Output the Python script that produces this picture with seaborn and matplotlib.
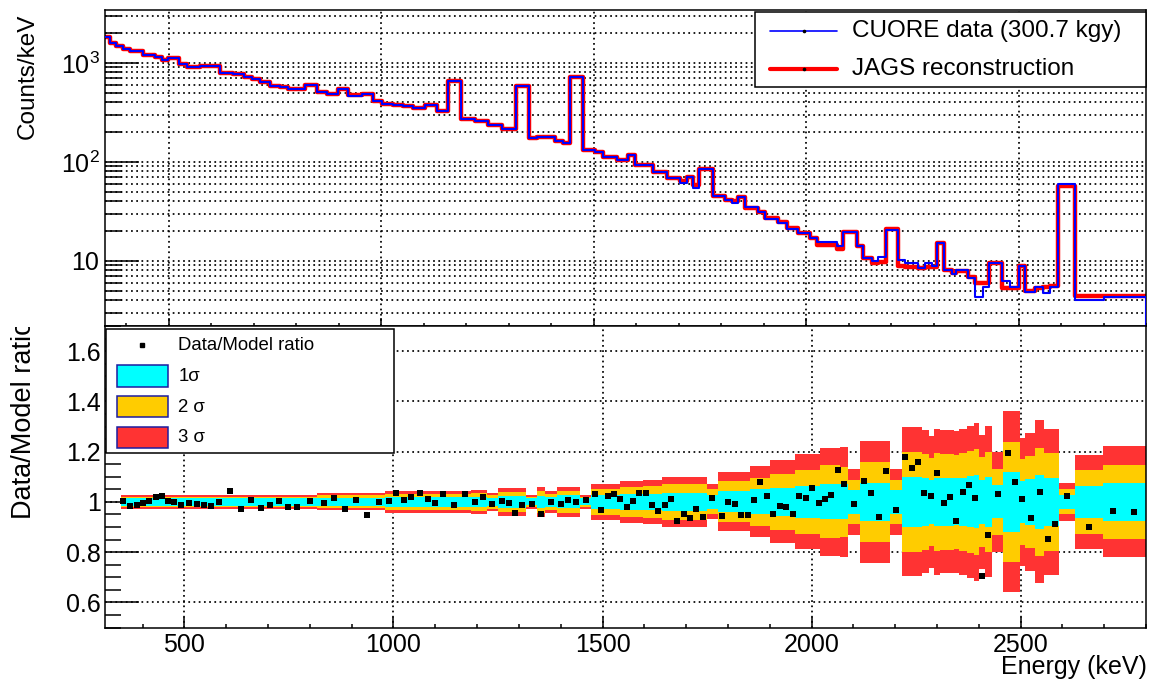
import numpy as np
import matplotlib
matplotlib.use("Agg")
import matplotlib.pyplot as plt
import seaborn as sns
from matplotlib.ticker import MultipleLocator, FuncFormatter, LogLocator, NullFormatter
from matplotlib.patches import Rectangle
from matplotlib.lines import Line2D
from matplotlib.transforms import Affine2D, Bbox, TransformedBbox

# ---------------- data ----------------
spec_edges = [350, 362, 377, 393, 409, 440, 468, 483, 499, 524, 542, 574, 621, 652, 676, 695,
              715, 738, 762, 781, 820, 848, 872, 899, 923, 954, 981, 1001, 1028, 1052, 1076,
              1103, 1131, 1158, 1187, 1221, 1252, 1284, 1317, 1349, 1366, 1409, 1427, 1444,
              1476, 1503, 1523, 1554, 1582, 1597, 1640, 1672, 1703, 1719, 1735, 1749, 1780,
              1809, 1825, 1840, 1856, 1887, 1903, 1935, 1954, 1981, 2009, 2025, 2072, 2088,
              2119, 2135, 2154, 2170, 2188, 2217, 2233, 2264, 2280, 2296, 2307, 2325, 2343,
              2354, 2382, 2398, 2416, 2431, 2460, 2480, 2500, 2515, 2539, 2557, 2574, 2594,
              2633, 2700, 2800]

data_counts = [1815, 1580, 1483, 1383, 1321, 1204, 1141, 1072, 1130, 970,
               918, 940, 799, 770, 728, 685, 648, 587, 569, 551,
               591, 507, 487, 547, 458, 484, 408, 386, 372, 363,
               350, 372, 323, 662, 270, 260, 234, 215, 587, 174,
               177, 161, 155, 728, 131, 125, 112, 105, 118, 92.5,
               79.3, 68.8, 61.3, 69.8, 54.6, 84, 45.1, 41.1, 38.7, 44.1,
               34.8, 31.0, 26.2, 23.9, 21.2, 19.2, 17.1, 15.6, 14.1, 19.6,
               14.1, 10.8, 10.0, 11.0, 20.7, 10.2, 9.6, 8.5, 9.6, 8.8,
               15.0, 8.1, 7.4, 8.0, 6.7, 4.3, 5.5, 9.6, 6.3, 5.5,
               8.9, 4.9, 5.5, 4.7, 5.4, 60, 4.0, 4.3]

model_counts = [1815, 1580, 1483, 1383, 1321, 1204, 1141, 1072, 1130, 970,
                918, 940, 799, 770, 728, 685, 648, 587, 569, 551,
                591, 507, 487, 547, 470, 484, 408, 386, 372, 363,
                350, 372, 323, 662, 270, 260, 234, 215, 587, 174,
                177, 161, 155, 728, 131, 125, 112, 105, 118, 92.5,
                79.3, 68.8, 64, 69.8, 58, 84, 45.1, 41.1, 40, 44.1,
                34.0, 31.5, 27, 24.5, 21.5, 19.2, 17.1, 14.6, 13.1, 19.6,
                14.1, 10.8, 9.6, 9.8, 21, 8.8, 8.7, 8.4, 8.6, 8.6,
                15.0, 8.0, 7.6, 7.9, 6.9, 6.0, 6.0, 9.6, 5.3, 5.3,
                8.9, 5.0, 5.3, 5.5, 5.6, 57.5, 4.4, 4.45]

ratio_energy = [354, 370, 386, 400, 415, 431, 446, 461, 475, 492,
                511, 529, 547, 564, 583, 609, 635, 659, 683, 705,
                726, 748, 769, 800, 833, 858, 884, 910, 936, 966,
                989, 1006, 1025, 1041, 1064, 1083, 1100, 1118, 1145, 1171,
                1195, 1214, 1235, 1259, 1277, 1291, 1307, 1331, 1353, 1376,
                1400, 1417, 1437, 1461, 1482, 1497, 1513, 1528, 1542, 1559,
                1573, 1588, 1604, 1619, 1633, 1650, 1664, 1678, 1695, 1710,
                1724, 1741, 1762, 1786, 1800, 1817, 1832, 1848, 1863, 1877,
                1894, 1908, 1925, 1939, 1956, 1970, 1987, 2001, 2018, 2033,
                2047, 2064, 2078, 2101, 2125, 2143, 2162, 2178, 2202, 2223,
                2241, 2255, 2269, 2286, 2300, 2317, 2332, 2346, 2363, 2377,
                2391, 2408, 2422, 2446, 2470, 2487, 2504, 2525, 2547, 2566,
                2583, 2611, 2664, 2721, 2772]

ratio_value = [1.005, 0.985, 0.988, 0.996, 1.005, 1.020, 1.025, 1.005, 1.001, 0.988,
               0.997, 0.992, 0.988, 0.985, 1.001, 1.045, 0.973, 1.009, 0.977, 0.988,
               1.005, 0.981, 0.981, 1.005, 0.997, 1.017, 0.973, 1.009, 0.949, 1.001,
               1.005, 1.037, 1.009, 1.021, 1.037, 1.013, 0.997, 1.032, 0.989, 1.033,
               1.001, 1.021, 0.993, 1.005, 0.996, 0.957, 0.988, 0.993, 0.953, 1.001,
               0.993, 1.009, 1.001, 1.009, 1.033, 0.969, 1.025, 1.033, 1.013, 0.981,
               1.005, 1.037, 1.037, 0.988, 0.965, 0.988, 1.013, 0.925, 0.953, 0.937,
               0.973, 0.941, 1.016, 0.945, 1.001, 0.993, 0.949, 0.949, 1.009, 1.081,
               1.025, 0.953, 0.985, 0.981, 0.953, 1.025, 1.017, 1.057, 0.997, 1.013,
               1.029, 1.125, 1.073, 0.993, 1.085, 1.037, 0.941, 1.121, 0.969, 1.177,
               1.133, 1.157, 1.037, 1.025, 1.113, 0.997, 1.021, 0.925, 1.041, 1.069,
               1.017, 0.705, 0.869, 1.033, 1.193, 1.081, 1.013, 0.937, 1.041, 0.853,
               0.913, 1.025, 0.901, 0.965, 0.961]

band_edges = [348, 817, 980, 1186, 1224, 1250, 1317, 1343, 1363, 1391, 1446, 1473, 1542,
              1597, 1643, 1750, 1777, 1853, 1901, 1961, 2021, 2068, 2088, 2115, 2188, 2216,
              2264, 2280, 2292, 2308, 2340, 2352, 2372, 2388, 2400, 2416, 2432, 2459, 2499,
              2511, 2535, 2557, 2593, 2631, 2697, 2800]

band_1s = [0.015, 0.017, 0.019, 0.021, 0.016, 0.023, 0.014, 0.025, 0.020, 0.026,
           0.014, 0.028, 0.031, 0.033, 0.037, 0.027, 0.042, 0.050, 0.057, 0.064,
           0.070, 0.070, 0.047, 0.075, 0.047, 0.099, 0.095, 0.088, 0.097, 0.095,
           0.094, 0.097, 0.101, 0.105, 0.089, 0.100, 0.066, 0.120, 0.085, 0.092,
           0.108, 0.097, 0.028, 0.064, 0.075]
band_2s = [0.021, 0.026, 0.031, 0.035, 0.027, 0.039, 0.021, 0.044, 0.033, 0.045,
           0.021, 0.053, 0.060, 0.064, 0.072, 0.050, 0.082, 0.097, 0.112, 0.127,
           0.145, 0.140, 0.088, 0.160, 0.088, 0.198, 0.190, 0.176, 0.194, 0.190,
           0.188, 0.194, 0.202, 0.210, 0.178, 0.200, 0.132, 0.240, 0.170, 0.184,
           0.216, 0.194, 0.050, 0.127, 0.148]
band_3s = [0.027, 0.034, 0.044, 0.048, 0.035, 0.055, 0.027, 0.059, 0.043, 0.060,
           0.027, 0.072, 0.083, 0.088, 0.099, 0.070, 0.117, 0.141, 0.165, 0.189,
           0.216, 0.220, 0.131, 0.243, 0.131, 0.297, 0.285, 0.264, 0.291, 0.285,
           0.282, 0.291, 0.303, 0.315, 0.267, 0.300, 0.198, 0.360, 0.255, 0.276,
           0.324, 0.291, 0.077, 0.187, 0.221]

legend_top = ["CUORE data (300.7 kgy)", "JAGS reconstruction"]
legend_bottom = ["Data/Model ratio", "1\u03c3", "2 \u03c3", "3 \u03c3"]

# ---------------- style ----------------
sns.set_theme(style="ticks", rc={
    "axes.edgecolor": "black", "text.color": "black", "axes.labelcolor": "black",
    "xtick.color": "black", "ytick.color": "black", "axes.facecolor": "white",
    "figure.facecolor": "white"})
plt.rcParams["font.family"] = ["Liberation Sans", "DejaVu Sans"]
plt.rcParams["mathtext.fontset"] = "custom"
plt.rcParams["mathtext.rm"] = "Liberation Sans"
plt.rcParams["mathtext.it"] = "Liberation Sans:italic"
plt.rcParams["mathtext.bf"] = "Liberation Sans:bold"

W, H = 1154, 682
fig = plt.figure(figsize=(W / 100, H / 100), dpi=100)


def frac(l, t, r, b):
    return [l / W, 1 - b / H, (r - l) / W, (b - t) / H]


ax1 = fig.add_axes(frac(105, 10, 1146, 326))
ax2 = fig.add_axes(frac(105, 326, 1146, 627.5))
px = Affine2D().scale(1 / W, -1 / H).translate(0, 1) + fig.transFigure

BLUE, RED = "#0000ff", "#ff0000"
DOT = (0, (1, 2))
GRID_LW = 1.25

# ---------------- upper panel ----------------
centers = [0.5 * (a + b) for a, b in zip(spec_edges[:-1], spec_edges[1:])]
sns.histplot(x=centers, weights=model_counts, bins=list(spec_edges), element="step",
             fill=False, color=RED, linewidth=3.2, ax=ax1, zorder=2)
sns.histplot(x=centers, weights=data_counts, bins=list(spec_edges), element="step",
             fill=False, color=BLUE, linewidth=1.5, ax=ax1, zorder=3)
ax1.set_yscale("log")
ax1.set_xlim(350, 2800)
ax1.set_ylim(2.2, 3420)
ax1.vlines(spec_edges[-1], ax1.get_ylim()[0], data_counts[-1], color=BLUE, lw=1.5, zorder=3)

ax1.yaxis.set_major_locator(LogLocator(base=10, numticks=10))
ax1.yaxis.set_minor_locator(LogLocator(base=10, subs=np.arange(2, 10), numticks=30))
ax1.yaxis.set_minor_formatter(NullFormatter())
ax1.yaxis.set_major_formatter(FuncFormatter(
    lambda v, p: "10" if abs(v - 10) < 1e-6 else r"$\mathdefault{10^{%d}}$" % round(np.log10(v))))

# ---------------- lower panel ----------------
be = np.array(band_edges, float)
for widths, col in ((band_3s, "#ff3333"), (band_2s, "#ffcc00"), (band_1s, "#00ffff")):
    w = np.append(widths, widths[-1])
    ax2.fill_between(be, 1 - w, 1 + w, step="post", color=col, lw=0, zorder=1)
sns.scatterplot(x=ratio_energy, y=ratio_value, marker="s", s=13, color="black",
                linewidth=0, ax=ax2, zorder=4)
ax2.set_xlim(310, 2800)
ax2.set_ylim(0.5, 1.7)
ax2.yaxis.set_major_locator(MultipleLocator(0.2))
ax2.yaxis.set_minor_locator(MultipleLocator(0.05))
ax2.yaxis.set_major_formatter(FuncFormatter(lambda v, p: f"{v:g}"))

# ---------------- common axis styling ----------------
for ax in (ax1, ax2):
    ax.xaxis.set_major_locator(MultipleLocator(500))
    ax.xaxis.set_minor_locator(MultipleLocator(100))
    ax.tick_params(which="both", direction="in", top=False, right=False, width=1.1,
                   colors="black")
    for s in ax.spines.values():
        s.set_visible(True)
        s.set_linewidth(1.1)
        s.set_color("black")
    ax.set_axisbelow(True)
    ax.set_xlabel("")
    ax.set_ylabel("")

ax1.grid(True, axis="y", which="both", color="black", linestyle=DOT, linewidth=GRID_LW)
ax1.grid(True, axis="x", which="major", color="black", linestyle=DOT, linewidth=GRID_LW)
ax1.tick_params(axis="y", which="major", length=24.5, labelsize=18, pad=4)
ax1.tick_params(axis="y", which="minor", length=12)
ax1.tick_params(axis="x", which="major", length=6, labelbottom=False)
ax1.tick_params(axis="x", which="minor", length=2.5)

ax2.grid(True, which="major", color="black", linestyle=DOT, linewidth=GRID_LW)
ax2.tick_params(axis="y", which="major", length=24.5, labelsize=18, pad=3)
ax2.tick_params(axis="y", which="minor", length=11.5)
ax2.tick_params(axis="x", which="major", length=8, labelsize=18, pad=4)
ax2.tick_params(axis="x", which="minor", length=3)

# axis titles
ax1.set_ylabel("Counts/keV", fontsize=17.5)
lab1 = ax1.yaxis.label
lab1.set_rotation_mode("default")
lab1.set_ha("center")
lab1.set_va("top")
ax1.yaxis.set_label_coords((27.5 - 105) / 1041, (326 - 14) / 316)

ax2.set_ylabel("Data/Model ratio", fontsize=19.5)
lab2 = ax2.yaxis.label
lab2.set_rotation_mode("default")
lab2.set_ha("center")
lab2.set_va("top")
ax2.yaxis.set_label_coords((23.6 - 105) / 1041, (627.5 - 320) / 301.5)
lab2.set_clip_on(True)
lab2.set_clip_box(TransformedBbox(Bbox([[0, 0], [0.2, 1 - 326.5 / H]]), fig.transFigure))

ax2.set_xlabel("Energy (keV)", fontsize=18)
labx = ax2.xaxis.label
labx.set_ha("right")
labx.set_va("center")
ax2.xaxis.set_label_coords((1147 - 105) / 1041, (627.5 - 667) / 301.5)

# ---------------- legends ----------------
fig.add_artist(Rectangle((755, 12), 391, 75, transform=px, facecolor="white",
                         edgecolor="black", lw=1.1, zorder=5))
fig.add_artist(Line2D([770, 837], [31, 31], transform=px, color=BLUE, lw=1.2, zorder=6))
fig.add_artist(Line2D([803.5], [31], transform=px, marker="o", ms=1.6, color="black",
                      ls="none", zorder=7))
fig.add_artist(Line2D([770, 837], [69, 69], transform=px, color=RED, lw=3.0, zorder=6))
fig.add_artist(Line2D([803.5], [69], transform=px, marker="o", ms=1.6, color="black",
                      ls="none", zorder=7))
fig.text(852, 31, legend_top[0], transform=px, fontsize=17.5, ha="left", va="center", zorder=6)
fig.text(852, 69, legend_top[1], transform=px, fontsize=17.5, ha="left", va="center", zorder=6)

fig.add_artist(Rectangle((106, 329), 288, 124, transform=px, facecolor="white",
                         edgecolor="black", lw=1.1, zorder=5))
fig.add_artist(Line2D([141.7], [345], transform=px, marker="s", ms=3.3, color="black",
                      ls="none", zorder=6))
patch_rows = [(365, "#00ffff"), (395.7, "#ffcc00"), (426.7, "#ff3333")]
for (top, col) in patch_rows:
    fig.add_artist(Rectangle((116.7, top), 51.6, 21.6, transform=px, facecolor=col,
                             edgecolor="#1c1ca0", lw=1.1, zorder=6))
text_rows = [345, 376.5, 407, 437.8]
for lbl, yy in zip(legend_bottom, text_rows):
    fig.text(178.3, yy, lbl, transform=px, fontsize=13.4, ha="left", va="center", zorder=6)

fig.savefig("out.png", dpi=100)
